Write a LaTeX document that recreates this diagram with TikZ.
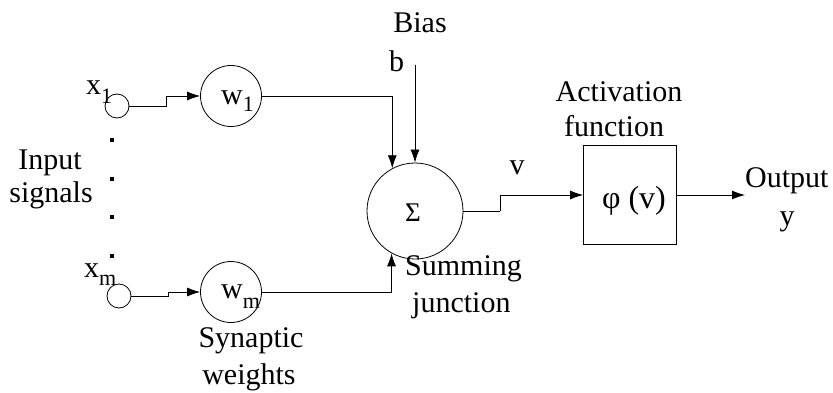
\documentclass[tikz,border=0pt]{standalone}
\usepackage{fontspec}
\setmainfont{Liberation Serif}
\usetikzlibrary{arrows.meta}
\begin{document}
\begin{tikzpicture}[x=1pt,y=-1pt,
  every node/.style={font=\fontsize{30}{36}\selectfont, inner sep=0pt},
  txt/.style={anchor=base},
  txtw/.style={anchor=base west},
  ln/.style={line width=0.8pt},
  arr/.style={ln,-{Latex[length=13pt,width=9pt]}},
  incirc/.style={draw,ln,circle,minimum size=24pt},
  wcirc/.style={draw,ln,circle,minimum size=61pt},
  dotm/.style={fill,minimum size=4pt,inner sep=0pt}]
\useasboundingbox (0,0) rectangle (833,393);
\newcommand{\sbx}[2]{\raisebox{#1}{\fontsize{22}{22}\selectfont #2}}
% input circles
\node[incirc] (x1) at (117,106) {};
\node[incirc] (xm) at (119,296) {};
\node[txtw] (x1l) at (86,95) {x\sbx{-9pt}{1}};
\node[txtw] (xml) at (84,277) {x\sbx{-8pt}{m}};
% dots
\node[dotm] (d1) at (112,140) {};
\node[dotm] (d2) at (112,179) {};
\node[dotm] (d3) at (112,217) {};
\node[dotm] (d4) at (112,256) {};
\node[txt] (inp1) at (50,170) {Input};
\node[txt] (inp2) at (51,203) {signals};
% weights
\node[wcirc] (w1) at (231,96) {};
\node[wcirc] (wm) at (231,292) {};
\node[txtw] (w1l) at (221,105) {w\sbx{-7pt}{1}};
\node[txtw] (wml) at (221,298) {w\sbx{-10pt}{m}};
\node[txt] (syn1) at (251,347) {Synaptic};
\node[txt] (syn2) at (249,384) {weights};
% summing
\node[draw,ln,circle,minimum size=96pt] (sum) at (415,211) {};
\node[txt,font=\fontsize{27}{27}\selectfont] (sig) at (413,222) {Σ};
\node[txtw] (sj1) at (405,275) {Summing};
\node[txtw] (sj2) at (412,312) {junction};
\node[txt] (bias) at (420,33) {Bias};
\node[txtw] (bl) at (389,72) {b};
\coordinate (btop) at (415,65);
\node[txt] (vl) at (517,175) {v};
% activation
\node[draw,ln,minimum width=93pt,minimum height=99pt] (phi) at (630,195) {};
\node[txt,font=\fontsize{32}{36}\selectfont] (phit) at (634,208) {φ (v)};
\node[txt] (act1) at (619,102) {Activation};
\node[txt] (act2) at (614,137) {function};
\node[txtw] (out1) at (745,188) {Output};
\node[txt] (out2) at (787,225) {y};
\coordinate (otip) at (745,195);
% connectors
\draw[arr] (x1.east) -- ++(37,0) |- (w1.west);
\draw[arr] (xm.east) -- ++(37,0) |- (wm.west);
\draw[arr] (w1.east) -| (sum.118);
\draw[arr] (wm.east) -| (sum.241);
\draw[arr] (btop) -- (sum.north);
\draw[ln] (sum.east) -- ++(37,0) coordinate (s1);
\draw[arr] (s1) |- (phi.west);
\draw[arr] (phi.east) -- (otip);
\end{tikzpicture}
\end{document}
